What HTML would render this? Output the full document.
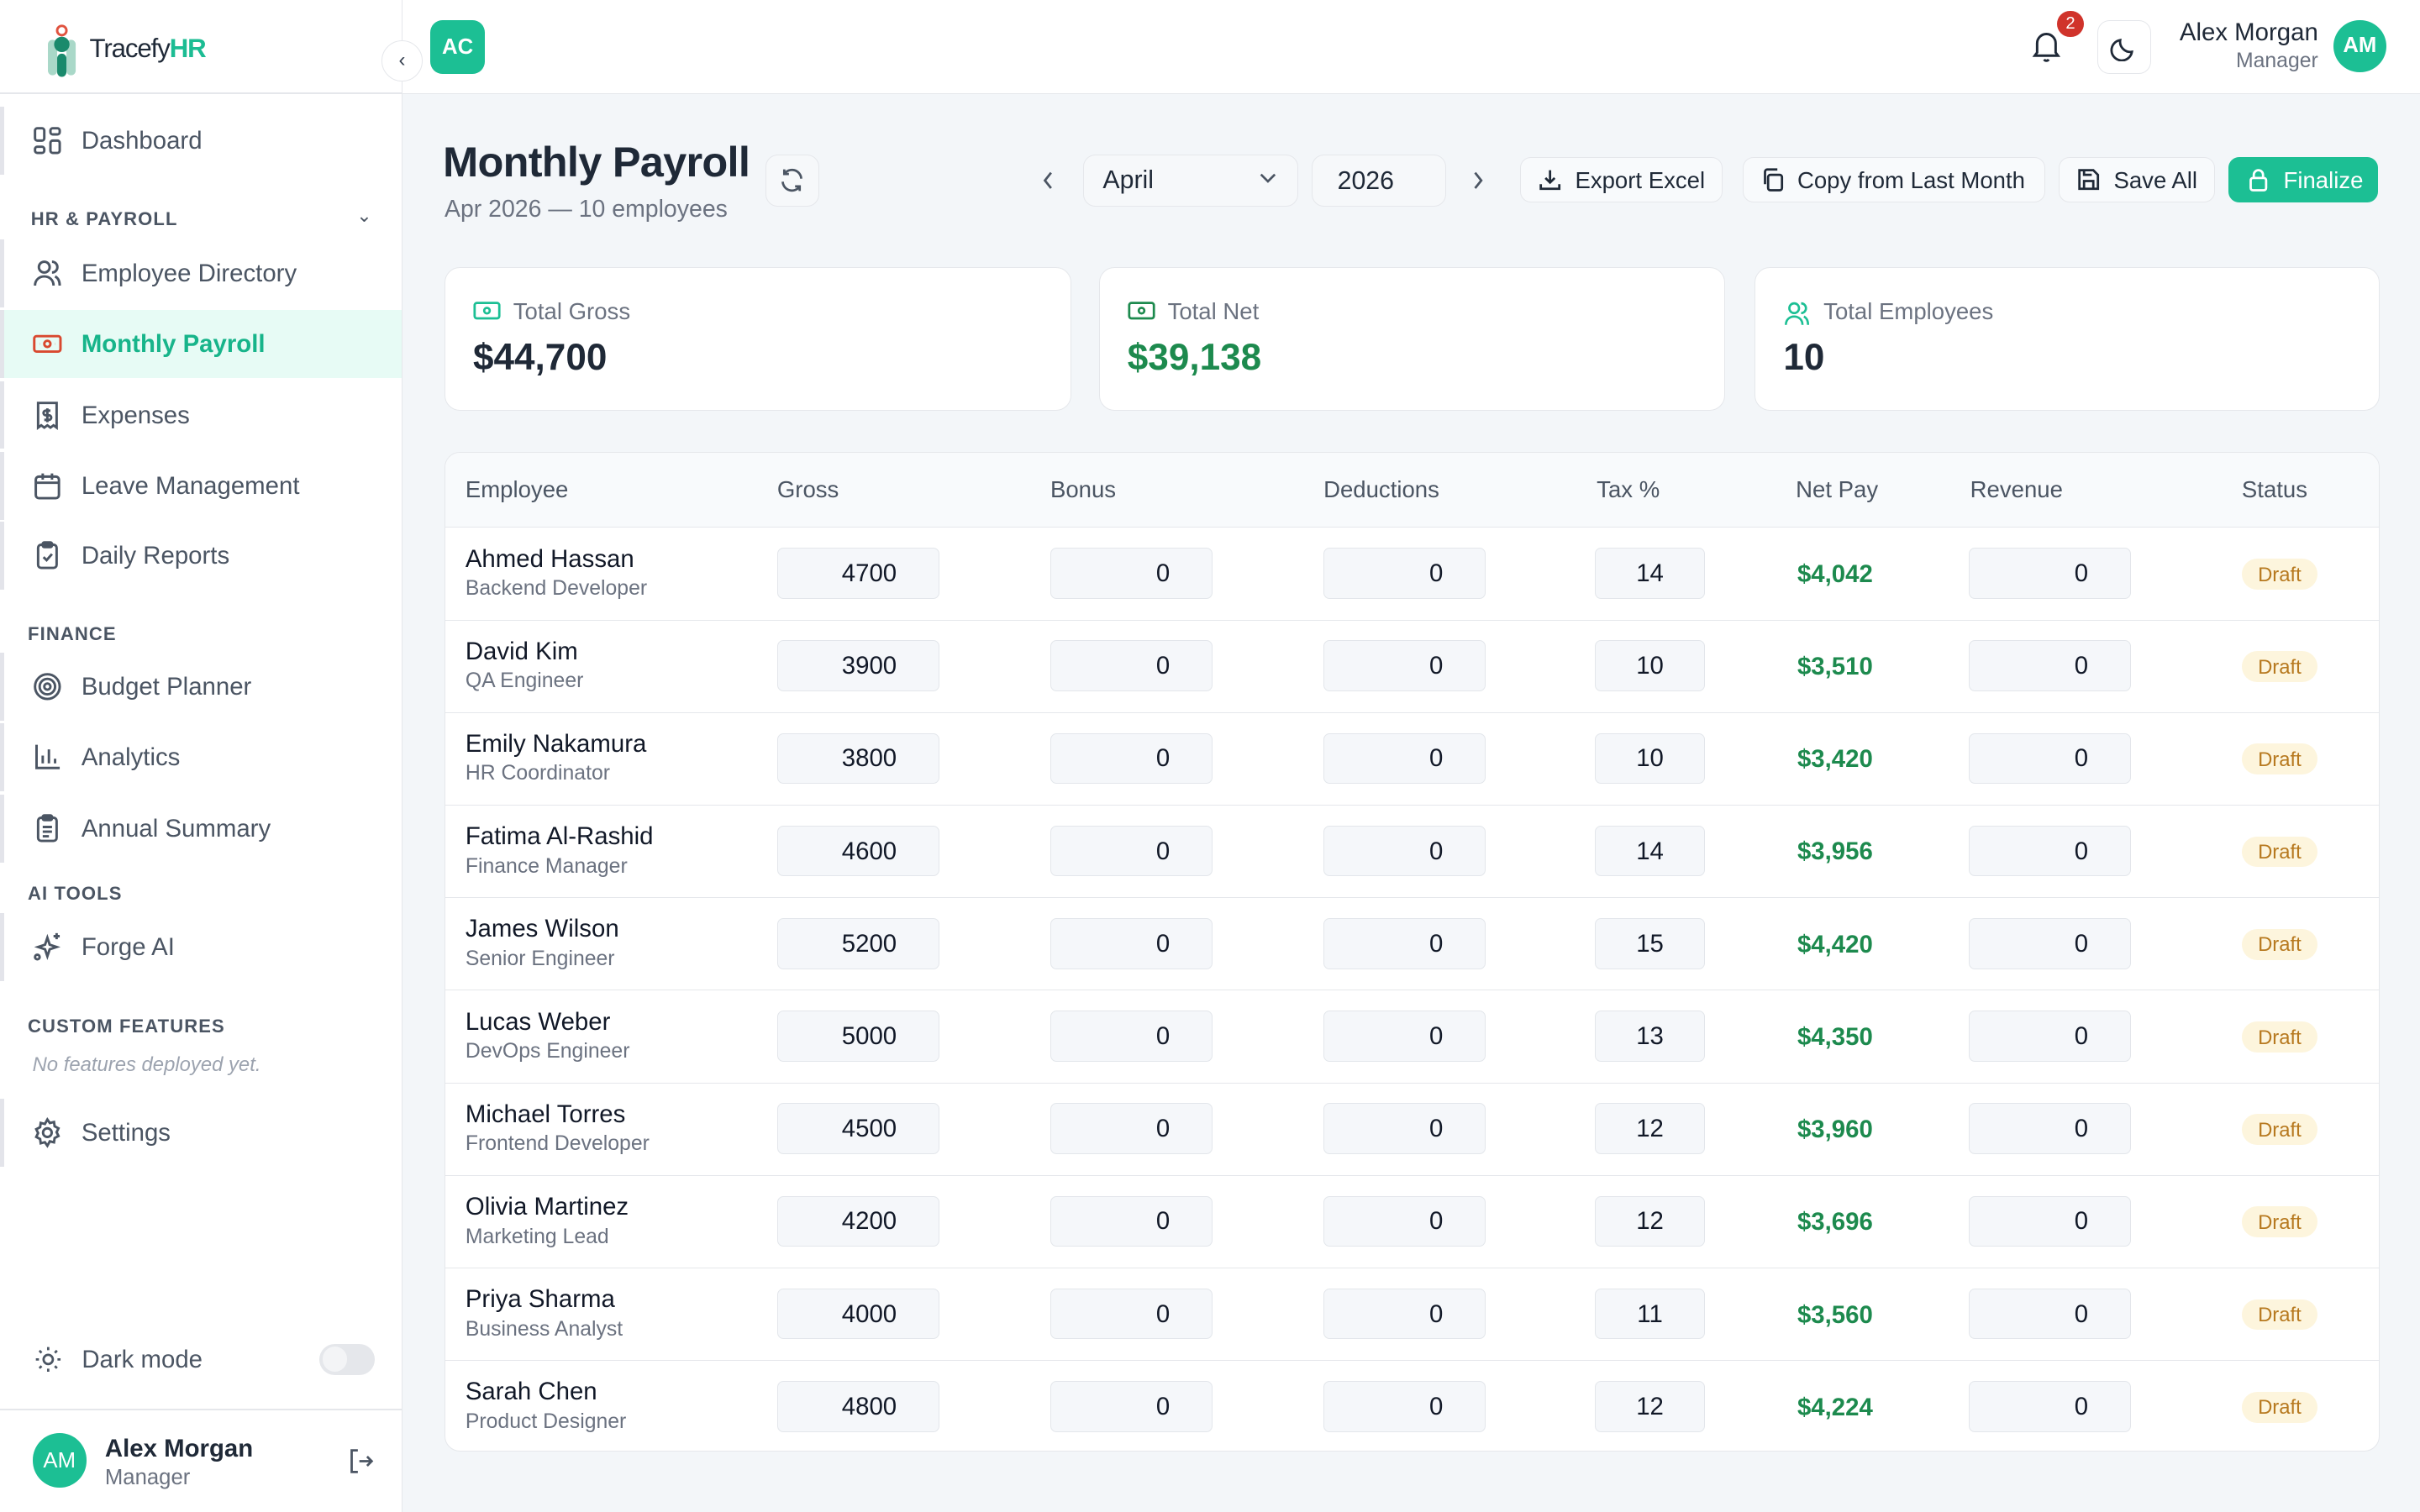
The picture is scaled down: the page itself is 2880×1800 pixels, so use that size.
<!DOCTYPE html>
<html><head><meta charset="utf-8"><style>
*{box-sizing:border-box;margin:0;padding:0}
html,body{width:2880px;height:1800px;overflow:hidden;background:#f3f6f9}
#w{zoom:1.836735;width:1568px;height:980px;position:relative;font-family:"Liberation Sans",sans-serif;color:#1f2937}
.a{position:absolute;white-space:nowrap}
.sb{position:absolute;left:0;top:0;width:261px;height:980px;background:#fff;border-right:1px solid #e5e7eb}
.nav{position:absolute;left:0;width:260px;height:44px;border-left:3px solid #e3e4ea}
.nav span{position:absolute;left:50px;top:13px;font-size:16px;color:#4b5563}
.nav svg{position:absolute;left:18px;top:12px}
.sec{position:absolute;left:18px;font-size:12px;font-weight:bold;color:#4b5563;letter-spacing:.6px}
.btn{position:absolute;top:102px;height:29px;border:1px solid #e5e7eb;border-radius:7px;background:#f8fafc;font-size:15px;color:#1f2937;padding:6px 0 0 35px}
.btn svg{position:absolute;left:11px;top:6px}
.card{position:absolute;top:173px;height:93px;background:#fff;border:1px solid #e5e7eb;border-radius:10px}
.card .l{position:absolute;left:44px;top:20px;font-size:15px;color:#6b7280}
.card .v{position:absolute;left:18px;top:45px;font-size:24px;font-weight:bold}
.card svg{position:absolute;left:18px;top:21px}
.tb{position:absolute;left:288px;top:293px;width:1254px;height:648px;background:#fff;border:1px solid #e5e7eb;border-radius:10px;overflow:hidden}
.th{position:absolute;top:15px;font-size:15px;color:#4b5563}
.row{position:absolute;left:0;width:1254px;height:60px;border-top:1px solid #e5e7eb}
.nm{position:absolute;left:13px;top:11px;font-size:16px;color:#111827}
.ro{position:absolute;left:13px;top:32px;font-size:13.5px;color:#6b7280}
.in{position:absolute;top:13px;height:33px;background:#f5f7fa;border:1px solid #e3e6eb;border-radius:4px;font-size:16px;text-align:right;padding:7px 27px 0 0;color:#111827}
.g{left:215px;width:105px}.b{left:392px;width:105px}.d{left:569px;width:105px}.r{left:987px;width:105px}
.t{left:745px;width:71px;text-align:center;padding-right:0}
.np{position:absolute;left:876px;top:21px;font-size:16px;font-weight:bold;color:#1d8a4e}
.dr{position:absolute;left:1164px;top:20px;height:20px;width:49px;background:#fdf5dd;border-radius:10px;font-size:13px;color:#b7791f;text-align:center;padding-top:3px}
</style></head><body><div id="w">
<div class="a" style="left:0;top:0;width:1568px;height:61px;background:#fff;border-bottom:1px solid #e5e7eb"></div>
<div class="sb"></div>
<div class="a" style="left:0;top:60px;width:261px;height:1px;background:#e5e7eb"></div>
<svg class="a" style="left:25px;top:16px" width="28" height="34" viewBox="0 0 28 34"><circle cx="15" cy="4" r="3" fill="none" stroke="#e0533f" stroke-width="1.6"/><rect x="6" y="10" width="6" height="23" rx="3" fill="#a9d8c8"/><rect x="18" y="10" width="6" height="23" rx="3" fill="#a9d8c8"/><circle cx="15" cy="13" r="5" fill="#1a8a6c"/><rect x="12" y="19" width="6" height="15" rx="3" fill="#1a8a6c"/></svg>
<div class="a" style="left:58px;top:22px;font-size:17px;letter-spacing:-.6px;color:#1f2937">Tracefy<b style="color:#1cbc93">HR</b></div>
<div class="a" style="left:247px;top:26px;width:27px;height:27px;border-radius:50%;background:#fff;border:1px solid #e5e7eb;font-size:13px;text-align:center;padding-top:5px;color:#374151">‹</div>
<div class="a" style="left:279px;top:13px;width:35px;height:35px;border-radius:8px;background:#1cbf94;color:#fff;font-weight:bold;font-size:14px;text-align:center;padding-top:10px">AC</div>
<svg class="a" style="left:1316px;top:19px" width="20" height="22" viewBox="0 0 20 22" fill="none" stroke="#1f2937" stroke-width="1.6"><path d="M4 15V9a6 6 0 0112 0v6l1.5 2h-15z"/><path d="M8.5 19.5a1.8 1.8 0 003 0"/></svg>
<div class="a" style="left:1333px;top:7px;width:17px;height:17px;border-radius:50%;background:#d0332b;color:#fff;font-size:11px;text-align:center;padding-top:2px">2</div>
<div class="a" style="left:1359px;top:13px;width:35px;height:35px;border-radius:8px;border:1px solid #e5e7eb;background:#fff"></div>
<svg class="a" style="left:1367px;top:21px" width="19" height="19" viewBox="0 0 20 20" fill="none" stroke="#1f2937" stroke-width="1.6"><path d="M15 13A7 7 0 017 5a7 7 0 108 8z"/></svg>
<div class="a" style="right:66px;top:12px;font-size:16px;color:#1f2937">Alex Morgan</div>
<div class="a" style="right:66px;top:32px;font-size:13.5px;color:#6b7280">Manager</div>
<div class="a" style="left:1512px;top:13px;width:34px;height:34px;border-radius:50%;background:#1cbf94;color:#fff;font-weight:bold;font-size:14px;text-align:center;padding-top:9px">AM</div>

<div class="nav" style="top:69px"><svg width="20" height="20" viewBox="0 0 20 20" fill="none" stroke="#4b5563" stroke-width="1.6"><rect x="2" y="2" width="6" height="8" rx="1.5"/><rect x="12" y="2" width="6" height="4" rx="1.5"/><rect x="12" y="10" width="6" height="8" rx="1.5"/><rect x="2" y="14" width="6" height="4" rx="1.5"/></svg><span>Dashboard</span></div>
<div class="sec" style="left:20px;top:135px">HR &amp; PAYROLL</div>
<div class="a" style="left:231px;top:133px;font-size:12px;color:#4b5563">⌄</div>
<div class="nav" style="top:155px"><svg width="20" height="20" viewBox="0 0 20 20" fill="none" stroke="#4b5563" stroke-width="1.6"><circle cx="8" cy="6" r="3.5"/><path d="M2 18c0-4 3-6 6-6s6 2 6 6M13 2.5a3.5 3.5 0 010 7M15 12c2 1 3 3 3 6"/></svg><span>Employee Directory</span></div>
<div class="nav" style="top:201px;background:#e7fbf5"><svg width="20" height="20" viewBox="0 0 20 20" fill="none" stroke="#d9482f" stroke-width="1.6"><rect x="1.5" y="5" width="17" height="10" rx="1.5"/><circle cx="10" cy="10" r="2"/><path d="M5 10h.1M15 10h.1"/></svg><span style="color:#17b48a;font-weight:bold">Monthly Payroll</span></div>
<div class="nav" style="top:247px"><svg width="20" height="20" viewBox="0 0 20 20" fill="none" stroke="#4b5563" stroke-width="1.6"><path d="M4 2h12v16l-2-1.5-2 1.5-2-1.5-2 1.5-2-1.5-2 1.5z"/><path d="M12 7H9a1.5 1.5 0 000 3h2a1.5 1.5 0 010 3H8M10 5.5v9"/></svg><span>Expenses</span></div>
<div class="nav" style="top:293px"><svg width="20" height="20" viewBox="0 0 20 20" fill="none" stroke="#4b5563" stroke-width="1.6"><rect x="2.5" y="4" width="15" height="14" rx="2"/><path d="M2.5 8h15M7 2v4M13 2v4"/></svg><span>Leave Management</span></div>
<div class="nav" style="top:338px"><svg width="20" height="20" viewBox="0 0 20 20" fill="none" stroke="#4b5563" stroke-width="1.6"><rect x="4" y="3" width="12" height="15" rx="2"/><rect x="7" y="1.5" width="6" height="3" rx="1"/><path d="M7.5 11l2 2 3.5-4"/></svg><span>Daily Reports</span></div>
<div class="sec" style="top:404px">FINANCE</div>
<div class="nav" style="top:423px"><svg width="20" height="20" viewBox="0 0 20 20" fill="none" stroke="#4b5563" stroke-width="1.6"><circle cx="10" cy="10" r="8"/><circle cx="10" cy="10" r="5"/><circle cx="10" cy="10" r="2"/></svg><span>Budget Planner</span></div>
<div class="nav" style="top:469px"><svg width="20" height="20" viewBox="0 0 20 20" fill="none" stroke="#4b5563" stroke-width="1.6"><path d="M3 2v15h15M7 14V9M11 14V5M15 14v-3"/></svg><span>Analytics</span></div>
<div class="nav" style="top:515px"><svg width="20" height="20" viewBox="0 0 20 20" fill="none" stroke="#4b5563" stroke-width="1.6"><rect x="4" y="3" width="12" height="15" rx="2"/><rect x="7" y="1.5" width="6" height="3" rx="1"/><path d="M7 9h6M7 12h6M7 15h4"/></svg><span>Annual Summary</span></div>
<div class="sec" style="top:572px">AI TOOLS</div>
<div class="nav" style="top:592px"><svg width="20" height="20" viewBox="0 0 20 20" fill="none" stroke="#4b5563" stroke-width="1.6"><path d="M10 4l1.5 4.5L16 10l-4.5 1.5L10 16l-1.5-4.5L4 10l4.5-1.5z"/><path d="M16 1v4M14 3h4"/><circle cx="3.5" cy="16.5" r="1.5"/></svg><span>Forge AI</span></div>
<div class="sec" style="top:658px">CUSTOM FEATURES</div>
<div class="a" style="left:21px;top:683px;font-size:13px;font-style:italic;color:#9ca3af">No features deployed yet.</div>
<div class="nav" style="top:712px"><svg width="20" height="20" viewBox="0 0 20 20" fill="none" stroke="#4b5563" stroke-width="1.6"><circle cx="10" cy="10" r="2.8"/><path d="M10 1.5l1.6 2.3 2.7-.7.4 2.8 2.5 1.3-1.2 2.5 1.2 2.5-2.5 1.3-.4 2.8-2.7-.7L10 18.5l-1.6-2.3-2.7.7-.4-2.8-2.5-1.3L4 10.3 2.8 7.8l2.5-1.3.4-2.8 2.7.7z"/></svg><span>Settings</span></div>
<svg class="a" style="left:21px;top:871px" width="20" height="20" viewBox="0 0 20 20" fill="none" stroke="#4b5563" stroke-width="1.5"><circle cx="10" cy="10" r="3"/><path d="M10 2v2M10 16v2M2 10h2M16 10h2M4.3 4.3l1.4 1.4M14.3 14.3l1.4 1.4M4.3 15.7l1.4-1.4M14.3 5.7l1.4-1.4"/></svg>
<div class="a" style="left:53px;top:872px;font-size:16px;color:#4b5563">Dark mode</div>
<div class="a" style="left:207px;top:871px;width:36px;height:20px;border-radius:10px;background:#e5e7eb"><div style="position:absolute;left:2px;top:2px;width:16px;height:16px;border-radius:50%;background:#f3f4f6"></div></div>
<div class="a" style="left:0;top:913px;width:261px;height:1px;background:#e5e7eb"></div>
<div class="a" style="left:21px;top:929px;width:35px;height:35px;border-radius:50%;background:#1cbf94;color:#fff;font-size:14px;text-align:center;padding-top:10px">AM</div>
<div class="a" style="left:68px;top:930px;font-size:16px;font-weight:bold;color:#1f2937">Alex Morgan</div>
<div class="a" style="left:68px;top:950px;font-size:14px;color:#6b7280">Manager</div>
<svg class="a" style="left:225px;top:938px" width="18" height="18" viewBox="0 0 18 18" fill="none" stroke="#4b5563" stroke-width="1.5"><path d="M7 2H3v14h4M8 9h8M13 6l3 3-3 3"/></svg>

<div class="a" style="left:287px;top:89px;font-size:27.5px;font-weight:bold;color:#1f2937;letter-spacing:-.4px">Monthly Payroll</div>
<div class="a" style="left:288px;top:127px;font-size:15.5px;color:#6b7280">Apr 2026 — 10 employees</div>
<div class="a" style="left:496px;top:100px;width:35px;height:34px;border:1px solid #e5e7eb;border-radius:8px;background:#f6f8fa"></div>
<svg class="a" style="left:504px;top:108px" width="18" height="18" viewBox="0 0 18 18" fill="none" stroke="#4b5563" stroke-width="1.5"><path d="M15 8a6 6 0 00-11-3M3 10a6 6 0 0011 3M4 2v3h3M14 16v-3h-3"/></svg>
<svg class="a" style="left:674px;top:110px" width="10" height="14" viewBox="0 0 10 14" fill="none" stroke="#4b5563" stroke-width="1.5"><path d="M7 2L3 7l4 5"/></svg>
<div class="a" style="left:702px;top:100px;width:139px;height:34px;border:1px solid #e5e7eb;border-radius:8px;background:#f6f8fa;font-size:16.5px;padding:7px 0 0 12px">April</div>
<svg class="a" style="left:815px;top:111px" width="13" height="9" viewBox="0 0 13 9" fill="none" stroke="#4b5563" stroke-width="1.5"><path d="M2 2l4.5 4.5L11 2"/></svg>
<div class="a" style="left:850px;top:100px;width:87px;height:34px;border:1px solid #e5e7eb;border-radius:8px;background:#f6f8fa;font-size:16.5px;padding:8px 0 0 16px">2026</div>
<svg class="a" style="left:953px;top:110px" width="10" height="14" viewBox="0 0 10 14" fill="none" stroke="#4b5563" stroke-width="1.5"><path d="M3 2l4 5-4 5"/></svg>
<div class="btn" style="left:985px;width:131px"><svg width="16" height="16" viewBox="0 0 16 16" fill="none" stroke="#1f2937" stroke-width="1.5"><path d="M8 2v8M5 7l3 3 3-3M2 11v3h12v-3"/></svg>Export Excel</div>
<div class="btn" style="left:1129px;width:196px"><svg width="16" height="16" viewBox="0 0 16 16" fill="none" stroke="#1f2937" stroke-width="1.5"><rect x="5" y="5" width="9" height="10" rx="1.5"/><path d="M3 11V3a1.5 1.5 0 011.5-1.5H11"/></svg>Copy from Last Month</div>
<div class="btn" style="left:1334px;width:101px"><svg width="16" height="16" viewBox="0 0 16 16" fill="none" stroke="#1f2937" stroke-width="1.5"><path d="M2 2h9l3 3v9H2z"/><path d="M5 14v-5h6v5M5 2v3h5"/></svg>Save All</div>
<div class="btn" style="left:1444px;width:97px;background:#1cbf94;border-color:#1cbf94;color:#fff"><svg width="16" height="16" viewBox="0 0 16 16" fill="none" stroke="#fff" stroke-width="1.5"><rect x="3" y="7" width="10" height="8" rx="1.5"/><path d="M5 7V5a3 3 0 016 0v2"/></svg>Finalize</div>

<div class="card" style="left:288px;width:406px"><svg width="18" height="14" viewBox="0 0 18 14" fill="none" stroke="#1cbf94" stroke-width="1.5"><rect x="1" y="2" width="16" height="10" rx="1.5"/><circle cx="9" cy="7" r="1.8"/></svg><div class="l">Total Gross</div><div class="v" style="color:#1f2937">$44,700</div></div>
<div class="card" style="left:712px;width:406px"><svg width="18" height="14" viewBox="0 0 18 14" fill="none" stroke="#1d8a4e" stroke-width="1.5"><rect x="1" y="2" width="16" height="10" rx="1.5"/><circle cx="9" cy="7" r="1.8"/></svg><div class="l">Total Net</div><div class="v" style="color:#1d8a4e">$39,138</div></div>
<div class="card" style="left:1137px;width:405px"><svg width="18" height="18" viewBox="0 0 20 20" fill="none" stroke="#1cbf94" stroke-width="1.6"><circle cx="8" cy="6" r="3.5"/><path d="M2 18c0-4 3-6 6-6s6 2 6 6M13 2.5a3.5 3.5 0 010 7M15 12c2 1 3 3 3 6"/></svg><div class="l">Total Employees</div><div class="v" style="color:#1f2937">10</div></div>

<div class="tb">
<div style="position:absolute;left:0;top:0;width:1254px;height:48px;background:#f8fafc"></div>
<div class="th" style="left:13px">Employee</div><div class="th" style="left:215px">Gross</div><div class="th" style="left:392px">Bonus</div><div class="th" style="left:569px">Deductions</div><div class="th" style="left:746px">Tax %</div><div class="th" style="left:875px">Net Pay</div><div class="th" style="left:988px">Revenue</div><div class="th" style="left:1164px">Status</div>

<div class="row" style="top:48px"><div class="nm">Ahmed Hassan</div><div class="ro">Backend Developer</div><div class="in g">4700</div><div class="in b">0</div><div class="in d">0</div><div class="in t">14</div><div class="np">$4,042</div><div class="in r">0</div><div class="dr">Draft</div></div>
<div class="row" style="top:108px"><div class="nm">David Kim</div><div class="ro">QA Engineer</div><div class="in g">3900</div><div class="in b">0</div><div class="in d">0</div><div class="in t">10</div><div class="np">$3,510</div><div class="in r">0</div><div class="dr">Draft</div></div>
<div class="row" style="top:168px"><div class="nm">Emily Nakamura</div><div class="ro">HR Coordinator</div><div class="in g">3800</div><div class="in b">0</div><div class="in d">0</div><div class="in t">10</div><div class="np">$3,420</div><div class="in r">0</div><div class="dr">Draft</div></div>
<div class="row" style="top:228px"><div class="nm">Fatima Al-Rashid</div><div class="ro">Finance Manager</div><div class="in g">4600</div><div class="in b">0</div><div class="in d">0</div><div class="in t">14</div><div class="np">$3,956</div><div class="in r">0</div><div class="dr">Draft</div></div>
<div class="row" style="top:288px"><div class="nm">James Wilson</div><div class="ro">Senior Engineer</div><div class="in g">5200</div><div class="in b">0</div><div class="in d">0</div><div class="in t">15</div><div class="np">$4,420</div><div class="in r">0</div><div class="dr">Draft</div></div>
<div class="row" style="top:348px"><div class="nm">Lucas Weber</div><div class="ro">DevOps Engineer</div><div class="in g">5000</div><div class="in b">0</div><div class="in d">0</div><div class="in t">13</div><div class="np">$4,350</div><div class="in r">0</div><div class="dr">Draft</div></div>
<div class="row" style="top:408px"><div class="nm">Michael Torres</div><div class="ro">Frontend Developer</div><div class="in g">4500</div><div class="in b">0</div><div class="in d">0</div><div class="in t">12</div><div class="np">$3,960</div><div class="in r">0</div><div class="dr">Draft</div></div>
<div class="row" style="top:468px"><div class="nm">Olivia Martinez</div><div class="ro">Marketing Lead</div><div class="in g">4200</div><div class="in b">0</div><div class="in d">0</div><div class="in t">12</div><div class="np">$3,696</div><div class="in r">0</div><div class="dr">Draft</div></div>
<div class="row" style="top:528px"><div class="nm">Priya Sharma</div><div class="ro">Business Analyst</div><div class="in g">4000</div><div class="in b">0</div><div class="in d">0</div><div class="in t">11</div><div class="np">$3,560</div><div class="in r">0</div><div class="dr">Draft</div></div>
<div class="row" style="top:588px"><div class="nm">Sarah Chen</div><div class="ro">Product Designer</div><div class="in g">4800</div><div class="in b">0</div><div class="in d">0</div><div class="in t">12</div><div class="np">$4,224</div><div class="in r">0</div><div class="dr">Draft</div></div>
</div>
</div></body></html>
